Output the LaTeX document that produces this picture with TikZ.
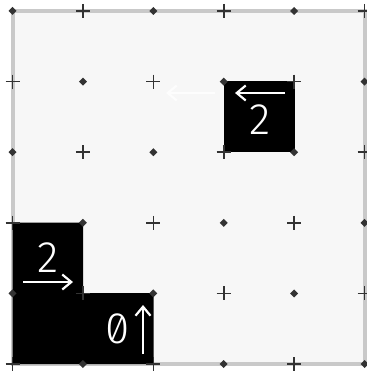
\documentclass[tikz,border=0pt]{standalone}
\usepackage{fontspec}
\newfontfamily\numfont{Fira Sans Light}[RawFeature=+zero]
\usetikzlibrary{arrows.meta}
\definecolor{framegray}{HTML}{C9C9C9}
\definecolor{bggray}{HTML}{F7F7F7}
\definecolor{markgray}{HTML}{333333}
\definecolor{ghostwhite}{HTML}{FDFDFD}
\begin{document}
\begin{tikzpicture}[x=1pt,y=-1pt,
  cellnum/.style={text=white,font=\numfont\fontsize{44}{44}\selectfont,inner sep=0pt},
  warrow/.style={draw=white,line width=2.2pt,-{Straight Barb[length=9pt,width=15pt]}},
  ghostarrow/.style={draw=ghostwhite,line width=2.2pt,-{Straight Barb[length=9pt,width=15pt]}},
  plusmark/.style={draw=markgray,line width=1.6pt},
  dotmark/.style={fill=markgray}
]
\useasboundingbox (0,0) rectangle (366,374);
% frame and background
\draw[draw=framegray,line width=4pt,fill=bggray] (12.5,11) rectangle (364.5,364);
% black cells
\fill[black] (224,81.5) rectangle (294.5,152);
\fill[black] (12.5,222.5) -- (83,222.5) -- (83,293) -- (153.5,293) -- (153.5,364) -- (12.5,364) -- cycle;
% grid markers
\foreach \i in {0,...,5}{
  \foreach \j in {0,...,5}{
    \pgfmathsetmacro\px{12.5+70.4*\i}
    \pgfmathsetmacro\py{11+70.6*\j}
    \pgfmathtruncatemacro\parity{mod(\i+\j,2)}
    \ifnum\parity=0
      \fill[dotmark] (\px-4,\py) -- (\px,\py-4) -- (\px+4,\py) -- (\px,\py+4) -- cycle;
    \else
      \draw[plusmark] (\px-7,\py) -- (\px+7,\py) (\px,\py-7) -- (\px,\py+7);
    \fi
  }
}
% texts
\node[cellnum] (sqtwo) at (260,120) {2};
\node[cellnum] (ltwo) at (48,258) {2};
\node[cellnum] (lzero) at (118,329) {0};
% arrows
\coordinate (a1s) at (285,93);
\coordinate (a1e) at (235,93);
\coordinate (g1s) at (215,93);
\coordinate (g1e) at (166,93);
\coordinate (a2s) at (23,282);
\coordinate (a2e) at (73,282);
\coordinate (a3s) at (143,354);
\coordinate (a3e) at (143,305);
\draw[ghostarrow] (g1s) -- (g1e);
\draw[warrow] (a1s) -- (a1e);
\draw[warrow] (a2s) -- (a2e);
\draw[warrow] (a3s) -- (a3e);
\end{tikzpicture}
\end{document}
